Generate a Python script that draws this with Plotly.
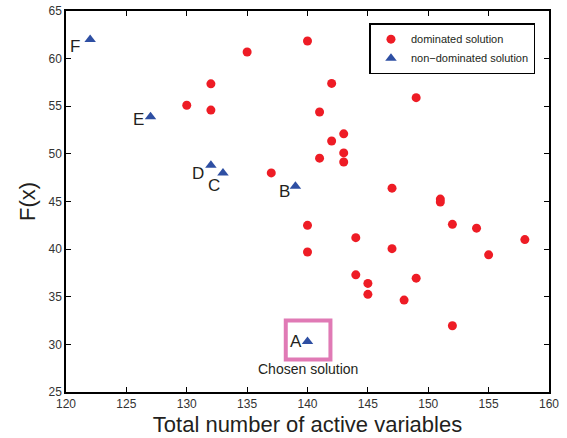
import plotly.graph_objects as go

dom_x = [135, 140, 132, 142, 130, 132, 141, 149, 142, 143, 143, 143, 141, 137,
         147, 151, 151, 152, 140, 154, 158, 144, 140, 147, 155, 144, 149, 145,
         145, 148, 152]
dom_y = [60.7, 61.85, 57.35, 57.4, 55.1, 54.6, 54.4, 55.9, 51.35, 52.1, 50.1, 49.15,
         49.55, 48.0, 46.4, 45.25, 44.95, 42.6, 42.5, 42.2, 41.0, 41.2, 39.7, 40.05,
         39.4, 37.3, 36.95, 36.4, 35.25, 34.65, 31.95]

nd_x = [140, 139, 133, 132, 127, 122]
nd_y = [30.3, 46.6, 48.0, 48.8, 53.9, 62.0]
nd_labels = ["A", "B", "C", "D", "E", "F"]

x_ticks = [120, 125, 130, 135, 140, 145, 150, 155, 160]
y_ticks = [25, 30, 35, 40, 45, 50, 55, 60, 65]

fig = go.Figure()
fig.add_trace(go.Scatter(
    x=dom_x, y=dom_y, mode="markers", name="dominated solution",
    marker=dict(symbol="circle", size=9, color="#ee1c25", line=dict(width=0)),
))
fig.add_trace(go.Scatter(
    x=nd_x, y=nd_y, mode="markers", name="non\u2212dominated solution",
    marker=dict(symbol="triangle-up", size=10, color="#2e4fa3", line=dict(width=0)),
))

# point labels (A-F)
label_shift = {"A": (-12, 0), "B": (-11, -5), "C": (-9, -13), "D": (-13, -8),
               "E": (-12, -3), "F": (-15, -7)}
for lx, ly, lab in zip(nd_x, nd_y, nd_labels):
    dx, dy = label_shift[lab]
    fig.add_annotation(x=lx, y=ly, text=lab, showarrow=False,
                       xshift=dx, yshift=dy,
                       font=dict(size=17, color="#231f20", family="Liberation Sans"))

# chosen solution box
fig.add_shape(type="rect", x0=138.2, x1=141.9, y0=28.4, y1=32.5,
              line=dict(color="#e07ab5", width=4), layer="below")
fig.add_annotation(x=140, y=27.4, text="Chosen solution", showarrow=False,
                   font=dict(size=14, color="#231f20", family="Liberation Sans"))

axis_common = dict(
    showline=True, linecolor="black", linewidth=1.5, mirror="ticks",
    ticks="inside", ticklen=5, tickwidth=1, tickcolor="black",
    showgrid=False, zeroline=False, automargin=False,
    ticklabeloverflow="allow",
    tickfont=dict(size=12, color="#333333", family="Liberation Sans"),
)

fig.update_layout(
    template="none",
    width=567, height=438,
    margin=dict(l=66, r=18, t=11, b=46),
    paper_bgcolor="white", plot_bgcolor="white",
    font=dict(family="Liberation Sans", color="#231f20"),
    xaxis=dict(range=[120, 160], tickvals=x_ticks, **axis_common,
               title=dict(text="Total number of active variables",
                          font=dict(size=22, color="#231f20"), standoff=6)),
    yaxis=dict(range=[25, 65], tickvals=y_ticks, **axis_common,
               title=dict(text="F(x)", font=dict(size=22, color="#231f20"), standoff=7)),
    legend=dict(x=0.972, y=0.968, xanchor="right", yanchor="top",
                bordercolor="black", borderwidth=1.5, bgcolor="white",
                font=dict(size=11, color="#231f20"), itemwidth=30,
                tracegroupgap=0),
    showlegend=True,
)

# remove the default page margin so the figure fills the window exactly
fig.write_html("out.html", config={"displayModeBar": False},
               post_script="document.body.style.margin='0px';")
